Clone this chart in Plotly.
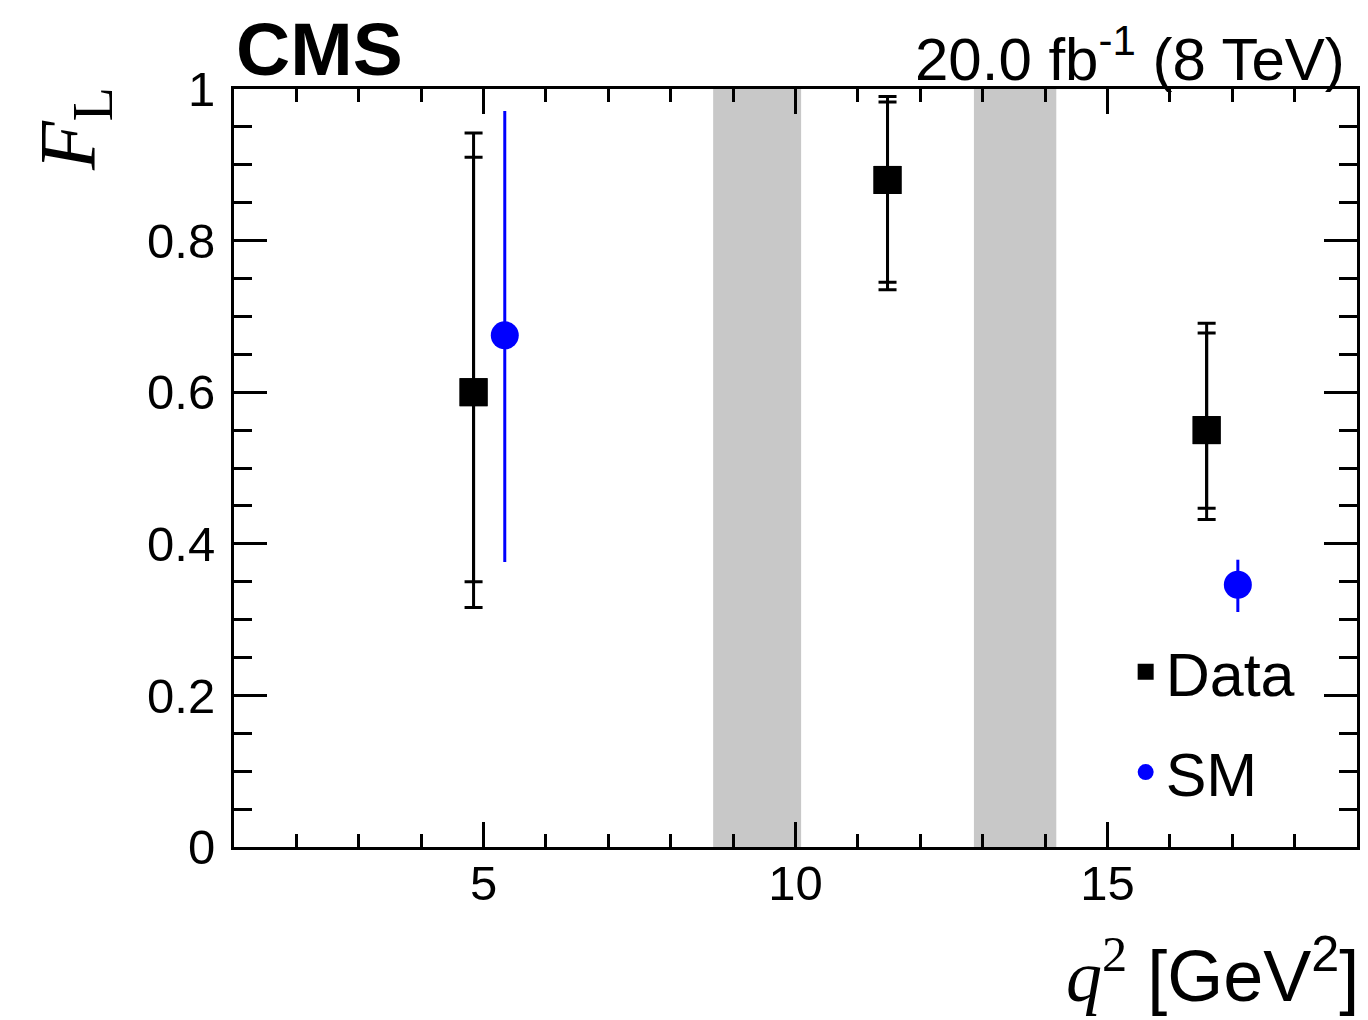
import plotly.graph_objects as go

# ---- data ----
q2_data = [4.84, 11.475, 16.59]
fl_data = [0.60, 0.88, 0.55]
stat_hi = [0.91, 0.983, 0.678]
stat_lo = [0.35, 0.745, 0.447]
tot_hi = [0.942, 0.99, 0.691]
tot_lo = [0.316, 0.735, 0.432]

q2_sm = [5.34, 17.09]
fl_sm = [0.675, 0.346]
sm_hi = [0.971, 0.379]
sm_lo = [0.376, 0.310]

veto_lo = [8.68, 12.86]
veto_hi = [10.09, 14.18]

x_range = [1, 19]
y_range = [0, 1]

FONT = "Liberation Sans, Arial, Helvetica, sans-serif"
SERIF = "Liberation Serif, Times New Roman, serif"

fig = go.Figure()

# total uncertainty
fig.add_trace(go.Scatter(
    x=q2_data, y=fl_data, mode="markers", name="Data",
    marker=dict(symbol="square", size=28, color="black"),
    error_y=dict(type="data", symmetric=False,
                 array=[h - v for h, v in zip(tot_hi, fl_data)],
                 arrayminus=[v - l for l, v in zip(tot_lo, fl_data)],
                 color="black", thickness=3, width=9),
    legendgroup="data", showlegend=True,
))
# statistical uncertainty
fig.add_trace(go.Scatter(
    x=q2_data, y=fl_data, mode="markers", name="Data stat",
    marker=dict(symbol="square", size=28, color="black"),
    error_y=dict(type="data", symmetric=False,
                 array=[h - v for h, v in zip(stat_hi, fl_data)],
                 arrayminus=[v - l for l, v in zip(stat_lo, fl_data)],
                 color="black", thickness=3, width=9),
    legendgroup="data", showlegend=False,
))
# SM prediction
fig.add_trace(go.Scatter(
    x=q2_sm, y=fl_sm, mode="markers", name="SM",
    marker=dict(symbol="circle", size=28, color="#0000ff"),
    error_y=dict(type="data", symmetric=False,
                 array=[h - v for h, v in zip(sm_hi, fl_sm)],
                 arrayminus=[v - l for l, v in zip(sm_lo, fl_sm)],
                 color="#0000ff", thickness=3, width=0),
    legendgroup="sm", showlegend=True,
))

for lo, hi in zip(veto_lo, veto_hi):
    fig.add_shape(type="rect", xref="x", yref="y", x0=lo, x1=hi, y0=y_range[0], y1=y_range[1],
                  fillcolor="#c8c8c8", line_width=0, layer="below")

axis_common = dict(
    showgrid=False, zeroline=False, showline=True, linecolor="black", linewidth=3,
    mirror="ticks", ticks="inside", tickcolor="black", tickwidth=3,
    tickfont=dict(family=FONT, size=49, color="black"),
)

fig.update_xaxes(range=x_range, tickvals=[5, 10, 15], ticklen=25,
                 minor=dict(dtick=1, tick0=0, ticks="inside", ticklen=13, tickwidth=3, tickcolor="black"),
                 ticklabelstandoff=-9, **axis_common)
fig.update_yaxes(range=y_range, tickvals=[0, 0.2, 0.4, 0.6, 0.8, 1], ticktext=["0", "0.2", "0.4", "0.6", "0.8", "1"],
                 ticklen=33,
                 minor=dict(dtick=0.05, tick0=0, ticks="inside", ticklen=18, tickwidth=3, tickcolor="black"),
                 ticklabelstandoff=6, **axis_common)

fig.add_annotation(text="<b>CMS</b>", xref="paper", yref="paper", x=0, y=1,
                   xanchor="left", yanchor="bottom", showarrow=False, yshift=-4,
                   font=dict(family=FONT, size=75, color="black"))
fig.add_annotation(text="20.0 fb<sup>-1</sup> (8 TeV)", xref="paper", yref="paper", x=1, y=1,
                   xanchor="right", yanchor="bottom", showarrow=False, xshift=-10, yshift=-6,
                   font=dict(family=FONT, size=60, color="black"))
fig.add_annotation(text="<i>F</i><sub>L</sub>", xref="paper", yref="paper", x=0, y=1,
                   xanchor="center", yanchor="top", showarrow=False, textangle=-90,
                   xshift=-160, yshift=4,
                   font=dict(family=SERIF, size=80, color="black"))
fig.add_annotation(text="<span style='font-family:Liberation Serif'><i>q</i><sup>2</sup></span> [GeV<sup>2</sup>]",
                   xref="paper", yref="paper", x=1, y=0,
                   xanchor="right", yanchor="bottom", showarrow=False, yshift=-172, xshift=4,
                   font=dict(family=FONT, size=72, color="black"))

# page body has an 8px margin: shift the plot area up/left to compensate
fig.update_layout(
    width=1368, height=1020,
    margin=dict(l=226, r=19, t=81, b=181),
    paper_bgcolor="white", plot_bgcolor="white",
    legend=dict(x=0.794, y=0.292, xanchor="left", yanchor="top",
                font=dict(family=FONT, size=61, color="black"),
                bgcolor="rgba(0,0,0,0)", traceorder="grouped", tracegroupgap=18,
                itemwidth=30),
)

fig.write_html("out.html")
